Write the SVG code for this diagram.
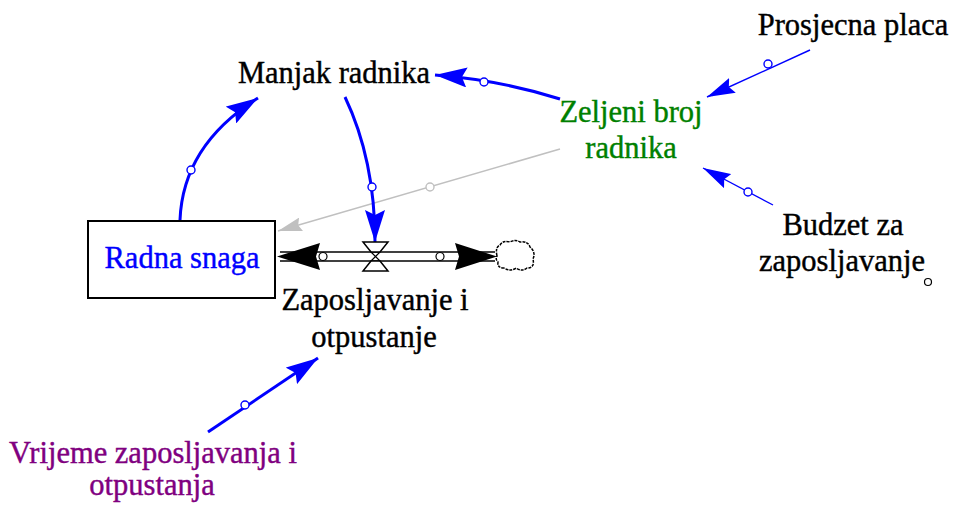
<svg xmlns="http://www.w3.org/2000/svg" width="955" height="505" viewBox="0 0 955 505">
<style>
text{font-family:"Liberation Serif","DejaVu Serif",serif;font-size:30.5px;text-anchor:middle;fill:#000;stroke:#000;stroke-width:0.4}
.tb{fill:#0000ff;stroke:#0000ff}
.tg{fill:#008000;stroke:#008000}
.tp{fill:#800080;stroke:#800080}
.blue{stroke:#0000ff;fill:none}
.thick{stroke-width:3}
.thin{stroke-width:1.4}
.gray{stroke:#c0c0c0;fill:none;stroke-width:1.5}
.cb{fill:#fff;stroke:#0000ff;stroke-width:1.4}
.cg{fill:#fff;stroke:#c0c0c0;stroke-width:1.4}
</style>
<defs>
<marker id="ab" viewBox="0 0 32 20" refX="32" refY="10" markerWidth="32" markerHeight="20" markerUnits="userSpaceOnUse" orient="auto"><path d="M0,0 L32,10 L0,20 L5,10 z" fill="#0000ff"/></marker>
<marker id="abs" viewBox="0 0 28 16" refX="28" refY="8" markerWidth="28" markerHeight="16" markerUnits="userSpaceOnUse" orient="auto"><path d="M0,0 L28,8 L0,16 L4,8 z" fill="#0000ff"/></marker>
<marker id="ag" viewBox="0 0 24 14" refX="24" refY="7" markerWidth="24" markerHeight="14" markerUnits="userSpaceOnUse" orient="auto"><path d="M0,0 L24,7 L0,14 L3,7 z" fill="#c0c0c0"/></marker>
</defs>
<g id="connectors">
<path class="gray" d="M560,149 L278,231" marker-end="url(#ag)"/>
<circle class="cg" cx="430" cy="187" r="4"/>
<path class="blue thick" d="M180,220 Q183,145 258,98" marker-end="url(#ab)"/>
<circle class="cb" cx="191" cy="170" r="4"/>
<path class="blue thick" d="M345,97 Q375,160 375,242" marker-end="url(#ab)"/>
<circle class="cb" cx="372" cy="187" r="4"/>
<path class="blue thick" d="M560,99 Q500,80 435,75" marker-end="url(#ab)"/>
<circle class="cb" cx="484" cy="82" r="4"/>
<path class="blue thin" d="M810,50 L707,97" marker-end="url(#abs)"/>
<circle class="cb" cx="768" cy="64" r="4"/>
<path class="blue thin" d="M773,205 L703,168" marker-end="url(#abs)"/>
<circle class="cb" cx="748" cy="192" r="4"/>
<path class="blue thick" d="M208,432 L318,358" marker-end="url(#ab)"/>
<circle class="cb" cx="245" cy="405" r="4"/>
</g>
<g id="flow">
<rect x="300" y="252" width="160" height="9" fill="#fff"/>
<line x1="280" y1="252" x2="495" y2="252" stroke="#000" stroke-width="1.5"/>
<line x1="280" y1="261" x2="495" y2="261" stroke="#000" stroke-width="1.5"/>
<circle cx="323" cy="256.5" r="4" fill="#fff" stroke="#000" stroke-width="1.2"/>
<circle cx="440" cy="256.5" r="4" fill="#fff" stroke="#000" stroke-width="1.2"/>
<path d="M277,256.5 L320,243 L316,256.5 L320,270 z" fill="#000"/>
<path d="M455,243 L497,256.5 L455,270 L459,256.5 z" fill="#000"/>
<path d="M363,242 L388,242 L380,252 L371,252 z M371,261 L380,261 L388,271 L363,271 z" fill="#fff" stroke="#000" stroke-width="1.5"/>
<path d="M371,252 L380,261 M380,252 L371,261" stroke="#000" stroke-width="1.2"/>
<path d="M497,256 Q495,247 500,245 Q503,240 510,242 Q515,239 520,242 Q528,241 530,247 Q536,252 533,259 Q535,268 527,268 Q522,272 516,268 Q510,272 504,268 Q497,268 498,262 Q495,259 497,256 z" fill="#fff" stroke="#000" stroke-width="1.5" stroke-dasharray="3,1"/>
</g>
<g id="radna-snaga">
<rect x="88" y="221" width="187" height="77" fill="#fff" stroke="#000" stroke-width="2"/>
<text x="182" y="268" class="tb">Radna snaga</text>
</g>
<g id="manjak-radnika"><text x="334" y="83">Manjak radnika</text></g>
<g id="zeljeni-broj-radnika"><text x="631" y="122" class="tg">Zeljeni broj</text><text x="631" y="158" class="tg">radnika</text></g>
<g id="prosjecna-placa"><text x="853" y="35">Prosjecna placa</text></g>
<g id="budzet"><text x="843" y="235">Budzet za</text><text x="842" y="271">zaposljavanje</text><circle cx="928" cy="282" r="3.5" fill="#fff" stroke="#000" stroke-width="1.2"/></g>
<g id="zaposljavanje"><text x="375" y="310">Zaposljavanje i</text><text x="374" y="347">otpustanje</text></g>
<g id="vrijeme"><text x="153" y="463" class="tp">Vrijeme zaposljavanja i</text><text x="152" y="495" class="tp">otpustanja</text></g>
</svg>
